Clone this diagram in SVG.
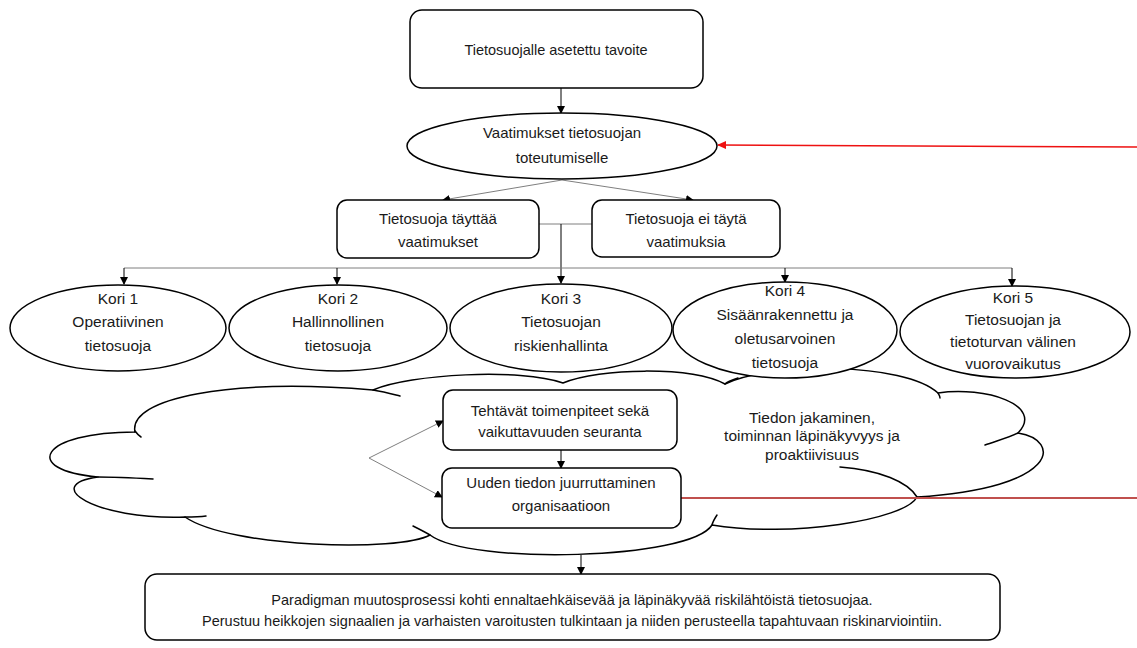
<svg xmlns="http://www.w3.org/2000/svg" width="1137" height="648" viewBox="0 0 1137 648">
  <style>
    .box { fill: #ffffff; stroke: #000000; stroke-width: 1.5; }
    .oval { fill: #ffffff; stroke: #000000; stroke-width: 1.5; }
    .cloud { fill: #ffffff; stroke: #000000; stroke-width: 1.5; stroke-linejoin: round; }
    .tail { fill: none; stroke: #000000; stroke-width: 1.5; stroke-linecap: round; }
    .lbl { font-family: "Liberation Sans", Arial, sans-serif; font-size: 15px; fill: #1a1a1a; text-anchor: middle; }
    .kori { font-size: 15.5px; }
    .small { font-size: 14.5px; }
    .wire { fill: none; stroke: #000000; stroke-width: 1; }
    .grey { fill: none; stroke: #7f7f7f; stroke-width: 1; }
    .red { fill: none; stroke: #ee1111; stroke-width: 1.5; }
    .dred { fill: none; stroke: #c0504d; stroke-width: 2; }
  </style>
  <defs>
    <marker id="ah" markerWidth="8" markerHeight="8" refX="7" refY="4" orient="auto" markerUnits="userSpaceOnUse">
      <path d="M0,0 L8,4 L0,8 Z" fill="#000000"/>
    </marker>
    <marker id="ahr" markerWidth="9" markerHeight="8" refX="8" refY="4" orient="auto" markerUnits="userSpaceOnUse">
      <path d="M0,0 L9,4 L0,8 Z" fill="#ee1111"/>
    </marker>
  </defs>

  <rect width="1137" height="648" fill="#ffffff"/>

  <!-- background cloud: overlapping lobes -->
  <g id="cloud">
    <path class="cloud" d="M135,432
      C128,398 230,378 373,390
      C410,374 520,368 563,383
      C600,368 690,366 725,384
      C770,362 905,362 938,393
      C985,386 1045,405 1018,433
      C1062,440 1060,488 917,497
      C905,520 790,538 712,525
      C690,560 470,565 430,535
      C400,552 230,548 185,517
      C95,520 40,485 98,477
      C20,470 40,432 135,432 Z"/>
    <path class="tail" d="M135,432 C134,428 136,434 141,437"/>
    <path class="tail" d="M373,390 C385,392 392,394 400,396"/>
    <path class="tail" d="M725,384 C727,382 732,380 738,378"/>
    <path class="tail" d="M938,393 C939,395 940,396 940,398"/>
    <path class="tail" d="M1018,433 C1008,438 996,441 985,445"/>
    <path class="tail" d="M917,497 C908,482 880,470 840,467"/>
    <path class="tail" d="M712,525 C713,521 715,518 717,515"/>
    <path class="tail" d="M430,535 C425,532 419,529 413,526"/>
    <path class="tail" d="M185,517 C192,517 199,517 206,516"/>
    <path class="tail" d="M98,477 C115,477 135,478 153,479"/>
    <text class="lbl kori" x="812" y="423">Tiedon jakaminen,</text>
    <text class="lbl kori" x="812" y="441">toiminnan läpinäkyvyys ja</text>
    <text class="lbl kori" x="812" y="460">proaktiivisuus</text>
  </g>

  <!-- connectors -->
  <g id="connectors">
    <line class="wire" x1="561" y1="88" x2="561" y2="113" marker-end="url(#ah)"/>
    <line class="red" x1="1137" y1="147" x2="718" y2="145" marker-end="url(#ahr)"/>
    <line class="grey" x1="562" y1="180" x2="443" y2="200" marker-end="url(#ah)"/>
    <line class="grey" x1="562" y1="180" x2="693" y2="200" marker-end="url(#ah)"/>
    <line class="grey" x1="539" y1="224" x2="592" y2="224"/>
    <line class="wire" x1="561" y1="224" x2="561" y2="283" marker-end="url(#ah)"/>
    <line class="grey" x1="124" y1="268" x2="1012" y2="268"/>
    <line class="wire" x1="124" y1="268" x2="124" y2="284" marker-end="url(#ah)"/>
    <line class="wire" x1="337" y1="268" x2="337" y2="284" marker-end="url(#ah)"/>
    <line class="wire" x1="785" y1="268" x2="785" y2="282" marker-end="url(#ah)"/>
    <line class="wire" x1="1012" y1="268" x2="1012" y2="286" marker-end="url(#ah)"/>
    <line class="grey" x1="369" y1="458" x2="443" y2="421" marker-end="url(#ah)"/>
    <line class="grey" x1="369" y1="458" x2="442" y2="497" marker-end="url(#ah)"/>
    <line class="wire" x1="561" y1="450" x2="561" y2="468" marker-end="url(#ah)"/>
    <line class="dred" x1="681" y1="498" x2="1137" y2="498"/>
    <line class="wire" x1="581" y1="555" x2="581" y2="574" marker-end="url(#ah)"/>
  </g>

  <g id="goal">
    <rect class="box" x="410" y="10" width="293" height="78" rx="12"/>
    <text class="lbl" x="556" y="55" style="font-size:14.5px">Tietosuojalle asetettu tavoite</text>
  </g>

  <g id="requirements">
    <ellipse class="oval" cx="562" cy="146" rx="155" ry="33"/>
    <text class="lbl" x="562" y="138">Vaatimukset tietosuojan</text>
    <text class="lbl" x="562" y="163">toteutumiselle</text>
  </g>

  <g id="meets">
    <rect class="box" x="337" y="200" width="202" height="58" rx="10"/>
    <text class="lbl" x="438" y="224">Tietosuoja täyttää</text>
    <text class="lbl" x="438" y="247">vaatimukset</text>
  </g>

  <g id="fails">
    <rect class="box" x="592" y="200" width="188" height="57" rx="10"/>
    <text class="lbl" x="686" y="224">Tietosuoja ei täytä</text>
    <text class="lbl" x="686" y="247">vaatimuksia</text>
  </g>

  <g id="kori1">
    <ellipse class="oval" cx="118" cy="328" rx="108" ry="43"/>
    <text class="lbl kori" x="118" y="304">Kori 1</text>
    <text class="lbl kori" x="118" y="327">Operatiivinen</text>
    <text class="lbl kori" x="118" y="351">tietosuoja</text>
  </g>

  <g id="kori2">
    <ellipse class="oval" cx="338" cy="328" rx="109" ry="43"/>
    <text class="lbl kori" x="338" y="304">Kori 2</text>
    <text class="lbl kori" x="338" y="327">Hallinnollinen</text>
    <text class="lbl kori" x="338" y="351">tietosuoja</text>
  </g>

  <g id="kori3">
    <ellipse class="oval" cx="561" cy="328" rx="111" ry="44"/>
    <text class="lbl kori" x="561" y="304">Kori 3</text>
    <text class="lbl kori" x="561" y="327">Tietosuojan</text>
    <text class="lbl kori" x="561" y="351">riskienhallinta</text>
  </g>

  <g id="kori4">
    <ellipse class="oval" cx="785" cy="330" rx="112" ry="48"/>
    <text class="lbl kori" x="785" y="296">Kori 4</text>
    <text class="lbl kori" x="785" y="320">Sisäänrakennettu ja</text>
    <text class="lbl kori" x="785" y="344">oletusarvoinen</text>
    <text class="lbl kori" x="785" y="368">tietosuoja</text>
  </g>

  <g id="kori5">
    <ellipse class="oval" cx="1015" cy="332" rx="115" ry="46"/>
    <text class="lbl kori" x="1013" y="303">Kori 5</text>
    <text class="lbl kori" x="1013" y="325">Tietosuojan ja</text>
    <text class="lbl kori" x="1013" y="347">tietoturvan välinen</text>
    <text class="lbl kori" x="1013" y="369">vuorovaikutus</text>
  </g>

  <g id="actions">
    <rect class="box" x="443" y="390" width="234" height="60" rx="10"/>
    <text class="lbl" x="560" y="416">Tehtävät toimenpiteet sekä</text>
    <text class="lbl" x="560" y="437">vaikuttavuuden seuranta</text>
  </g>

  <g id="embedding">
    <rect class="box" x="442" y="468" width="239" height="60" rx="10"/>
    <text class="lbl" x="561" y="488">Uuden tiedon juurruttaminen</text>
    <text class="lbl" x="561" y="511">organisaatioon</text>
  </g>

  <g id="paradigm">
    <rect class="box" x="145" y="574" width="855" height="66" rx="12"/>
    <text class="lbl small" x="572" y="605">Paradigman muutosprosessi kohti ennaltaehkäisevää ja läpinäkyvää riskilähtöistä tietosuojaa.</text>
    <text class="lbl small" x="572" y="626">Perustuu heikkojen signaalien ja varhaisten varoitusten tulkintaan ja niiden perusteella tapahtuvaan riskinarviointiin.</text>
  </g>
</svg>
